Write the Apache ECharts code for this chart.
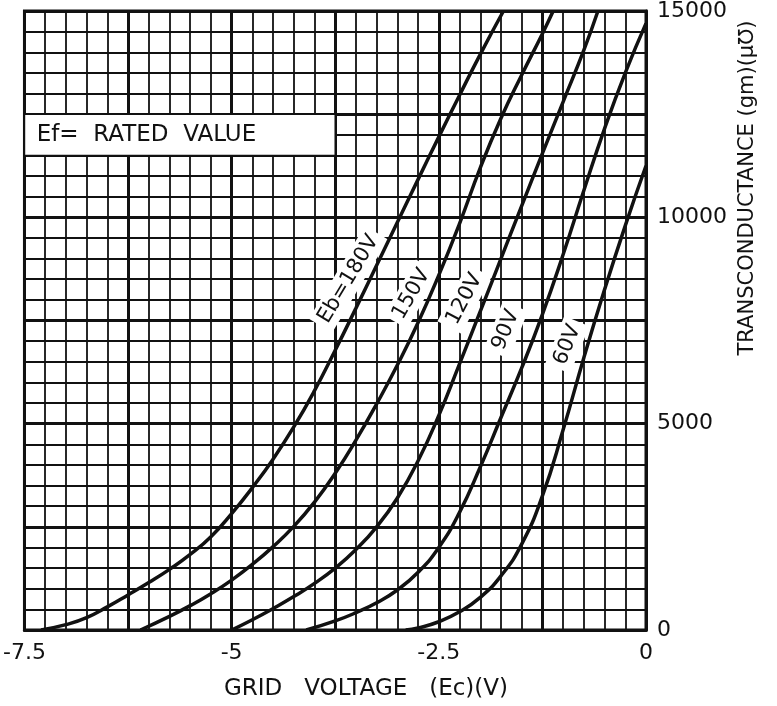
<!DOCTYPE html>
<html>
<head>
<meta charset="utf-8">
<title>Transconductance vs Grid Voltage</title>
<script src="https://cdn.jsdelivr.net/npm/echarts@6.0.0/dist/echarts.min.js"></script>
<style>
  html, body { margin: 0; padding: 0; background: #fff; }
  #chart { width: 777px; height: 706px; }
</style>
</head>
<body>
<div id="chart"></div>
<script>
// curve names (plate voltage)
var curveNames = ['Eb=180V', '150V', '120V', '90V', '60V'];

// gm (umho) against grid voltage Ec (V)
var gm180 = [[-7.3, 0], [-7.0, 130], [-6.75, 300], [-6.5, 560], [-6.25, 850], [-6.0, 1150],
  [-5.75, 1470], [-5.5, 1830], [-5.25, 2260], [-5.0, 2820], [-4.75, 3450], [-4.5, 4140],
  [-4.25, 4920], [-4.0, 5800], [-3.75, 6780], [-3.5, 7800], [-3.25, 8840], [-3.0, 9880],
  [-2.75, 10920], [-2.5, 11950], [-2.25, 12960], [-2.0, 13950], [-1.72, 15000]];
var gm150 = [[-6.1, 0], [-5.75, 330], [-5.5, 590], [-5.25, 880], [-5.0, 1210], [-4.75, 1590],
  [-4.5, 2020], [-4.25, 2510], [-4.0, 3100], [-3.75, 3800], [-3.5, 4600], [-3.25, 5480],
  [-3.0, 6420], [-2.75, 7450], [-2.5, 8600], [-2.25, 9850], [-2.0, 11200], [-1.75, 12400],
  [-1.5, 13450], [-1.25, 14450], [-1.12, 15000]];
var gm120 = [[-5.0, 0], [-4.75, 250], [-4.5, 520], [-4.25, 810], [-4.0, 1130], [-3.75, 1500],
  [-3.5, 1950], [-3.25, 2500], [-3.0, 3200], [-2.75, 4100], [-2.5, 5200], [-2.25, 6450],
  [-2.0, 7720], [-1.75, 9000], [-1.5, 10280], [-1.25, 11550], [-1.0, 12800], [-0.75, 14050],
  [-0.58, 15000]];
var gm90 = [[-4.1, 0], [-3.75, 220], [-3.5, 420], [-3.25, 660], [-3.0, 970], [-2.75, 1400],
  [-2.5, 2000], [-2.25, 2850], [-2.0, 3950], [-1.75, 5150], [-1.5, 6350], [-1.25, 7650],
  [-1.0, 9100], [-0.75, 10650], [-0.5, 12150], [-0.25, 13500], [0, 14700]];
var gm60 = [[-2.9, 0], [-2.75, 50], [-2.5, 200], [-2.25, 440], [-2.0, 790], [-1.75, 1310],
  [-1.5, 2080], [-1.25, 3250], [-1.0, 4850], [-0.75, 6600], [-0.5, 8250], [-0.25, 9800],
  [0, 11250]];

var xTicks = [-7.5, -5, -2.5, 0];
var yTicks = [0, 5000, 10000, 15000];

var curves = [gm180, gm150, gm120, gm90, gm60];

var ink = '#111';

// where the curve names sit: [Ec, gm, angle in degrees]
var labelSpots = [[-3.59, 8500, 59], [-2.83, 8140, 60], [-2.19, 8020, 62], [-1.69, 7270, 68], [-0.95, 6910, 68]];

var chart = echarts.init(document.getElementById('chart'));

var series = curves.map(function (d, i) {
  return {
    name: curveNames[i],
    type: 'line',
    data: d,
    smooth: 0.5,
    symbol: 'none',
    z: 3,
    lineStyle: { color: ink, width: 3.5 }
  };
});

// curve names on white boxes, plus the Ef note box
series.push({
  type: 'custom',
  z: 1,
  silent: true,
  data: labelSpots.map(function (p) { return [p[0], p[1]]; }),
  renderItem: function (params, api) {
    var pt = api.coord([api.value(0), api.value(1)]);
    var i = params.dataIndex;
    return {
      type: 'text',
      x: pt[0],
      y: pt[1],
      rotation: labelSpots[i][2] * Math.PI / 180,
      style: {
        text: curveNames[i],
        font: '21px "DejaVu Sans"',
        fill: ink,
        align: 'center',
        verticalAlign: 'middle',
        backgroundColor: '#fff',
        padding: [3, 5]
      }
    };
  },
  markArea: {
    silent: true,
    itemStyle: { color: '#fff', borderColor: ink, borderWidth: 1.5 },
    label: {
      show: true,
      position: 'insideLeft',
      distance: 13,
      fontFamily: 'DejaVu Sans',
      fontSize: 23,
      color: ink
    },
    data: [[{ name: 'Ef=  RATED  VALUE', coord: [-7.5, 12500] }, { coord: [-3.75, 11500] }]]
  }
});

var option = {
  backgroundColor: '#fff',
  animation: false,
  grid: {
    left: 24, right: 131, top: 8, bottom: 76,
    show: true, borderColor: ink, borderWidth: 3, backgroundColor: '#fff'
  },
  xAxis: {
    type: 'value',
    min: -7.5, max: 0, interval: 1.25,
    axisLine: { show: true, lineStyle: { color: ink, width: 3 } },
    axisTick: { show: false },
    minorTick: { show: false, splitNumber: 5 },
    splitLine: { show: true, lineStyle: { color: ink, width: 3 } },
    minorSplitLine: { show: true, lineStyle: { color: ink, width: 1.8 } },
    axisLabel: {
      margin: 12, fontFamily: 'DejaVu Sans', fontSize: 22, color: ink,
      formatter: function (v) { return xTicks.indexOf(v) >= 0 ? String(v) : ''; }
    }
  },
  yAxis: {
    type: 'value',
    position: 'right',
    min: 0, max: 15000, interval: 2500,
    axisLine: { show: true, lineStyle: { color: ink, width: 3 } },
    axisTick: { show: false },
    minorTick: { show: false, splitNumber: 5 },
    splitLine: { show: true, lineStyle: { color: ink, width: 3 } },
    minorSplitLine: { show: true, lineStyle: { color: ink, width: 1.8 } },
    axisLabel: {
      margin: 11, fontFamily: 'DejaVu Sans', fontSize: 22, color: ink, align: 'left',
      formatter: function (v) { return yTicks.indexOf(v) >= 0 ? String(v) : ''; }
    }
  },
  graphic: [
    {
      type: 'text', left: 224, top: 678,
      style: { text: 'GRID   VOLTAGE   (Ec)(V)', font: '23px "DejaVu Sans"', fill: ink }
    },
    {
      type: 'text', x: 748, y: 188, rotation: Math.PI / 2,
      style: {
        text: 'TRANSCONDUCTANCE (gm)(\u03bc\u2127)', font: '21px "DejaVu Sans"', fill: ink,
        align: 'center', verticalAlign: 'middle'
      }
    }
  ],
  series: series
};

chart.setOption(option);
</script>
</body>
</html>
